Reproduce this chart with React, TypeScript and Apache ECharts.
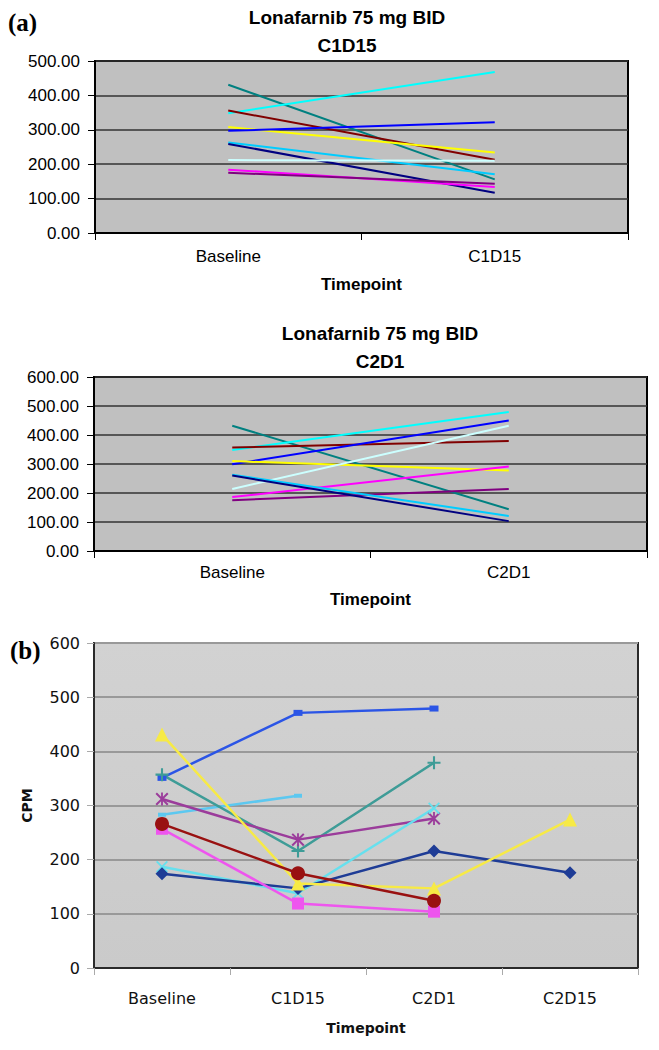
import React, { useEffect, useRef } from "react";
import * as echarts from "echarts";

// ---------- data ----------
const catsA1 = ["Baseline", "C1D15"];
const catsA2 = ["Baseline", "C2D1"];
const catsB = ["Baseline", "C1D15", "C2D1", "C2D15"];

const yTicksA1 = [0, 100, 200, 300, 400, 500];
const yTicksA2 = [0, 100, 200, 300, 400, 500, 600];
const yTicksB = [0, 100, 200, 300, 400, 500, 600];

// Panel (a) top: Baseline -> C1D15
const a1Teal = [431, 156];
const a1Cyan = [348, 468];
const a1DarkRed = [356, 213];
const a1Yellow = [308, 234];
const a1Blue = [297, 322];
const a1Sky = [263, 171];
const a1Navy = [259, 117];
const a1LightCyan = [212, 210];
const a1Magenta = [184, 134];
const a1Purple = [175, 143];

// Panel (a) bottom: Baseline -> C2D1
const a2Teal = [432, 144];
const a2Cyan = [348, 479];
const a2DarkRed = [357, 379];
const a2Blue = [299, 450];
const a2Yellow = [310, 278];
const a2LightCyan = [214, 432];
const a2Magenta = [186, 291];
const a2Purple = [175, 214];
const a2Sky = [263, 121];
const a2Navy = [260, 103];

// Panel (b)
const bBlue = [351, 471, 479, null];
const bTeal = [357, 216, 379, null];
const bSky = [283, 318, null, null];
const bPurple = [312, 237, 276, null];
const bCyan = [187, 138, 295, null];
const bNavy = [174, 147, 216, 176];
const bMagenta = [257, 119, 104, null];
const bDarkRed = [266, 175, 124, null];
const bYellow = [431, 156, 147, 274];

const ARIAL = "Liberation Sans";
const SANS = "DejaVu Sans";

const PLUS = "path://M4.2,0H5.8V4.2H10V5.8H5.8V10H4.2V5.8H0V4.2H4.2Z";
const XMARK = "path://M0,1.1L1.1,0L5,3.9L8.9,0L10,1.1L6.1,5L10,8.9L8.9,10L5,6.1L1.1,10L0,8.9L3.9,5Z";
const STAR =
  "path://M0,1.1L1.1,0L4.3,3.2V0H5.7V3.2L8.9,0L10,1.1L6.1,5L10,8.9L8.9,10L5.7,6.8V10H4.3V6.8L1.1,10L0,8.9L3.9,5Z";

function aLine(name: string, data: number[], color: string, idx: number) {
  return {
    name,
    type: "line",
    xAxisIndex: idx,
    yAxisIndex: idx,
    data,
    symbol: "none",
    lineStyle: { color, width: 2 },
    itemStyle: { color },
  };
}

function bLine(name: string, data: (number | null)[], color: string, symbol: string, size: any) {
  return {
    name,
    type: "line",
    xAxisIndex: 2,
    yAxisIndex: 2,
    data,
    symbol,
    symbolSize: size,
    showSymbol: true,
    connectNulls: false,
    lineStyle: { color, width: 2.5 },
    itemStyle: { color },
  };
}

function xAxisA(idx: number, cats: string[], margin: number, nameGap: number) {
  return {
    type: "category",
    gridIndex: idx,
    data: cats,
    boundaryGap: true,
    axisLine: { show: true, lineStyle: { color: "#000", width: 2 } },
    axisTick: { show: true, length: 7, lineStyle: { color: "#000", width: 1 } },
    axisLabel: { fontFamily: ARIAL, fontSize: 17, color: "#000", margin },
    name: "Timepoint",
    nameLocation: "middle",
    nameGap,
    nameTextStyle: { fontFamily: ARIAL, fontSize: 17, fontWeight: "bold", color: "#000" },
  };
}

function yAxisA(idx: number, max: number) {
  return {
    type: "value",
    gridIndex: idx,
    min: 0,
    max,
    interval: 100,
    axisLine: { show: true, lineStyle: { color: "#000", width: 2 } },
    axisTick: { show: true, length: 7, lineStyle: { color: "#000", width: 1 } },
    axisLabel: {
      fontFamily: ARIAL,
      fontSize: 17,
      color: "#000",
      margin: 15,
      formatter: (v: number) => v.toFixed(2),
    },
    splitLine: { show: true, lineStyle: { color: "#333", width: 1.5 } },
  };
}

export default function App() {
  const ref = useRef<HTMLDivElement>(null);

  useEffect(() => {
    document.body.style.margin = "0";
    const chart = echarts.init(ref.current!, null, { renderer: "svg" });
    const option: any = {
      animation: false,
      backgroundColor: "#fff",
      grid: [
        {
          left: 95, top: 61, width: 533, height: 172,
          show: true, backgroundColor: "#C0C0C0", borderColor: "#000", borderWidth: 2,
        },
        {
          left: 94, top: 377, width: 553, height: 174,
          show: true, backgroundColor: "#C0C0C0", borderColor: "#000", borderWidth: 2,
        },
        {
          left: 94, top: 643, width: 544, height: 325,
          show: true,
          backgroundColor: {
            type: "linear", x: 0, y: 0, x2: 0, y2: 1,
            colorStops: [
              { offset: 0, color: "#D2D2D2" },
              { offset: 1, color: "#CACACA" },
            ],
          },
          borderColor: "#2a2a2a", borderWidth: 2,
        },
      ],
      xAxis: [
        xAxisA(0, catsA1, 15, 43),
        xAxisA(1, catsA2, 13, 40),
        {
          type: "category",
          gridIndex: 2,
          data: catsB,
          boundaryGap: true,
          axisLine: { show: true, lineStyle: { color: "#2a2a2a", width: 2 } },
          axisTick: { show: true, length: 7, lineStyle: { color: "#aaa", width: 1 } },
          axisLabel: { fontFamily: SANS, fontSize: 16, color: "#111", margin: 22 },
          name: "Timepoint",
          nameLocation: "middle",
          nameGap: 53,
          nameTextStyle: { fontFamily: SANS, fontSize: 14, fontWeight: "bold", color: "#111" },
        },
      ],
      yAxis: [
        { ...yAxisA(0, 500), data: undefined },
        yAxisA(1, 600),
        {
          type: "value",
          gridIndex: 2,
          min: 0,
          max: 600,
          interval: 100,
          axisLine: { show: true, lineStyle: { color: "#2a2a2a", width: 2 } },
          axisTick: { show: true, length: 7, lineStyle: { color: "#aaa", width: 1 } },
          axisLabel: { fontFamily: SANS, fontSize: 16, color: "#111", margin: 14 },
          splitLine: { show: true, lineStyle: { color: "#999", width: 2 } },
          name: "CPM",
          nameLocation: "middle",
          nameGap: 60,
          nameRotate: 90,
          nameTextStyle: { fontFamily: SANS, fontSize: 14, fontWeight: "bold", color: "#111" },
        },
      ],
      series: [
        aLine("Teal", a1Teal, "#008080", 0),
        aLine("Cyan", a1Cyan, "#00FFFF", 0),
        aLine("Dark red", a1DarkRed, "#800000", 0),
        aLine("Yellow", a1Yellow, "#FFFF00", 0),
        aLine("Blue", a1Blue, "#0000FF", 0),
        aLine("Sky", a1Sky, "#00CCFF", 0),
        aLine("Navy", a1Navy, "#000080", 0),
        aLine("Light cyan", a1LightCyan, "#CCFFFF", 0),
        aLine("Magenta", a1Magenta, "#FF00FF", 0),
        aLine("Purple", a1Purple, "#800080", 0),

        aLine("Teal", a2Teal, "#008080", 1),
        aLine("Cyan", a2Cyan, "#00FFFF", 1),
        aLine("Dark red", a2DarkRed, "#800000", 1),
        aLine("Blue", a2Blue, "#0000FF", 1),
        aLine("Yellow", a2Yellow, "#FFFF00", 1),
        aLine("Light cyan", a2LightCyan, "#CCFFFF", 1),
        aLine("Magenta", a2Magenta, "#FF00FF", 1),
        aLine("Purple", a2Purple, "#800080", 1),
        aLine("Sky", a2Sky, "#00CCFF", 1),
        aLine("Navy", a2Navy, "#000080", 1),

        bLine("Sky", bSky, "#5CC8F0", "rect", [8, 4]),
        bLine("Blue", bBlue, "#2B55E6", "rect", [9, 6]),
        bLine("Teal", bTeal, "#3E9C97", PLUS, 13),
        bLine("Purple", bPurple, "#9B3C9B", STAR, 13),
        bLine("Cyan", bCyan, "#66E0EE", XMARK, 12),
        bLine("Navy", bNavy, "#1E3C96", "diamond", 13),
        bLine("Magenta", bMagenta, "#EE55EE", "rect", 12),
        bLine("Yellow", bYellow, "#F7EA45", "triangle", 14),
        bLine("Dark red", bDarkRed, "#991111", "circle", 14),
      ],
      graphic: [
        {
          type: "text", x: 8, y: 22,
          style: { text: "(a)", fontFamily: "Liberation Serif", fontWeight: "bold", fontSize: 25, fill: "#000", align: "left", verticalAlign: "middle" },
        },
        {
          type: "text", x: 347, y: 17,
          style: { text: "Lonafarnib 75 mg BID", fontFamily: ARIAL, fontWeight: "bold", fontSize: 19, fill: "#000", align: "center", verticalAlign: "middle" },
        },
        {
          type: "text", x: 347, y: 45,
          style: { text: "C1D15", fontFamily: ARIAL, fontWeight: "bold", fontSize: 19, fill: "#000", align: "center", verticalAlign: "middle" },
        },
        {
          type: "text", x: 380, y: 333,
          style: { text: "Lonafarnib 75 mg BID", fontFamily: ARIAL, fontWeight: "bold", fontSize: 19, fill: "#000", align: "center", verticalAlign: "middle" },
        },
        {
          type: "text", x: 380, y: 361,
          style: { text: "C2D1", fontFamily: ARIAL, fontWeight: "bold", fontSize: 19, fill: "#000", align: "center", verticalAlign: "middle" },
        },
        {
          type: "text", x: 10, y: 650,
          style: { text: "(b)", fontFamily: "Liberation Serif", fontWeight: "bold", fontSize: 25, fill: "#000", align: "left", verticalAlign: "middle" },
        },
      ],
    };
    chart.setOption(option);
    return () => chart.dispose();
  }, []);

  return <div ref={ref} style={{ width: 659, height: 1050 }} />;
}
